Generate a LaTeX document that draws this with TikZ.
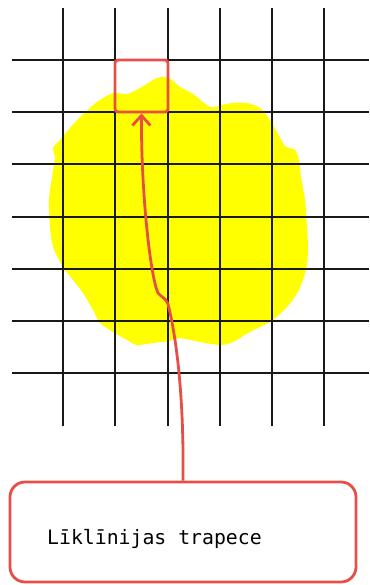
\documentclass[tikz,border=0pt]{standalone}
\usepackage{fontspec}
\newfontfamily\monofont{DejaVu Sans Mono}
\usetikzlibrary{arrows.meta}
\definecolor{redline}{RGB}{232,78,72}
\definecolor{blobyellow}{RGB}{255,255,0}
\tikzset{
  gridline/.style={line width=1.8pt, draw=black!90},
  redbox/.style={draw=redline, line width=2.8pt, rounded corners=3pt, minimum width=53pt, minimum height=52pt, inner sep=0pt},
  bigbox/.style={draw=redline, line width=2.8pt, rounded corners=15pt, minimum width=346pt, minimum height=100pt, inner sep=0pt},
  conn/.style={draw=redline, line width=2.8pt, -{Straight Barb[length=10pt,width=18pt]}},
  lbl/.style={font=\monofont\fontsize{19.8}{22}\selectfont, inner sep=0pt, anchor=base west}
}
\begin{document}
\begin{tikzpicture}[x=1pt,y=-1pt]
\useasboundingbox (0,0) rectangle (369,585);
% yellow blob
\fill[blobyellow] plot[smooth cycle, tension=0.45] coordinates {
(113,93) (127,94) (140,88) (157,78) (165,77) (172,80) (180,87) (193,94) (210,107) (222,105) (232,103) (247,103) (260,108) (270,120) (277,132) (285,146) (295,150) (299,160) (301,177) (305,200) (307,227) (308,250) (306,270) (298,292) (287,307) (273,320) (260,327) (248,333) (233,342) (220,345) (200,342) (180,338) (170,341) (153,343) (137,345) (127,340) (113,332) (100,323) (93,310) (83,293) (73,280) (63,267) (53,247) (50,227) (49,200) (52,177) (55,157) (53,148) (60,140) (70,128) (80,117) (97,102)};
% grid
\foreach \x in {63,115,168,220,272,324} \draw[gridline] (\x,8) -- (\x,426);
\foreach \y in {60,112,164,217,269,321,373} \draw[gridline] (12,\y) -- (369,\y);
% highlighted cell
\node[redbox] (sq) at (141.5,86) {};
% bottom box and label
\node[bigbox] (box) at (183,532) {};
\node[lbl] (label) at (47,544) {Līklīnijas trapece};
% connector
\draw[conn] (box.north) .. controls (184,400) and (177,340) .. (168,304)
  .. controls (166,298) and (161,297) .. (158,293)
  .. controls (150,275) and (141,190) .. (sq.south);
\end{tikzpicture}
\end{document}
